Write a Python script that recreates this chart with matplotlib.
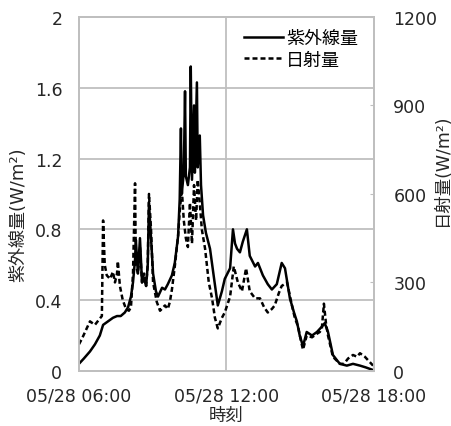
import pandas as pd
import matplotlib.pyplot as plt
import matplotlib.dates as mdates

plt.rcParams['font.family'] = ['DejaVu Sans', 'Noto Sans CJK JP']

# UV (left axis, W/m2)
uv_times = [
    '06:00', '06:12', '06:27', '06:39', '06:51', '06:59', '07:11', '07:23', '07:33', '07:42',
    '07:52', '08:00', '08:07', '08:12', '08:17', '08:19', '08:24', '08:29', '08:34', '08:39',
    '08:44', '08:48', '08:51', '08:56', '09:01', '09:08', '09:13', '09:23', '09:30', '09:37',
    '09:47', '09:54', '10:02', '10:06', '10:09', '10:11', '10:16', '10:19', '10:21', '10:26',
    '10:31', '10:33', '10:36', '10:41', '10:43', '10:48', '10:50', '10:55', '10:58', '11:03',
    '11:10', '11:20', '11:30', '11:39', '11:49', '11:56', '12:09', '12:16', '12:21', '12:26',
    '12:33', '12:40', '12:50', '12:57', '13:10', '13:17', '13:29', '13:41', '13:51', '14:03',
    '14:15', '14:23', '14:35', '14:45', '14:52', '14:59', '15:07', '15:16', '15:29', '15:41',
    '15:53', '16:00', '16:08', '16:20', '16:30', '16:37', '16:54', '17:09', '17:26', '17:40',
    '17:58',
]
uv_values = [
    0.04, 0.07, 0.11, 0.15, 0.20, 0.26, 0.28, 0.30, 0.31, 0.31,
    0.33, 0.36, 0.42, 0.50, 0.63, 0.74, 0.55, 0.75, 0.50, 0.52,
    0.48, 0.60, 0.95, 0.75, 0.55, 0.45, 0.42, 0.47, 0.46, 0.49,
    0.54, 0.61, 0.76, 0.97, 1.37, 1.00, 1.12, 1.58, 1.10, 1.05,
    1.15, 1.72, 1.08, 1.50, 1.12, 1.63, 1.15, 1.33, 1.05, 0.88,
    0.78, 0.69, 0.52, 0.37, 0.45, 0.52, 0.58, 0.80, 0.72, 0.69,
    0.67, 0.73, 0.80, 0.65, 0.59, 0.61, 0.54, 0.49, 0.46, 0.49,
    0.61, 0.58, 0.41, 0.33, 0.28, 0.20, 0.14, 0.22, 0.20, 0.22,
    0.25, 0.27, 0.22, 0.09, 0.06, 0.04, 0.03, 0.04, 0.03, 0.02,
    0.005,
]

# solar radiation (right axis, W/m2)
sol_times = [
    '06:00', '06:07', '06:15', '06:27', '06:39', '06:49', '06:56', '06:59', '07:03', '07:08',
    '07:16', '07:23', '07:28', '07:33', '07:35', '07:40', '07:47', '07:55', '08:02', '08:07',
    '08:12', '08:17', '08:19', '08:24', '08:29', '08:34', '08:39', '08:44', '08:48', '08:51',
    '08:56', '09:01', '09:10', '09:18', '09:30', '09:37', '09:42', '09:47', '09:54', '10:02',
    '10:06', '10:11', '10:16', '10:21', '10:26', '10:31', '10:36', '10:41', '10:46', '10:50',
    '10:55', '11:00', '11:08', '11:17', '11:25', '11:32', '11:39', '11:49', '11:56', '12:09',
    '12:18', '12:28', '12:38', '12:48', '12:57', '13:10', '13:22', '13:32', '13:41', '13:51',
    '13:58', '14:08', '14:15', '14:28', '14:40', '14:47', '14:55', '15:02', '15:07', '15:16',
    '15:29', '15:41', '15:48', '15:53', '15:58', '16:03', '16:08', '16:20', '16:37', '16:47',
    '16:57', '17:09', '17:19', '17:26', '17:38', '17:50', '17:58',
]
sol_values = [
    90, 108, 132, 168, 156, 174, 186, 510, 360, 324,
    312, 336, 300, 330, 372, 288, 240, 210, 204, 216,
    330, 636, 360, 330, 420, 300, 330, 288, 360, 600,
    480, 300, 234, 204, 222, 210, 234, 276, 354, 456,
    540, 618, 510, 450, 420, 570, 432, 630, 510, 648,
    570, 480, 414, 300, 246, 180, 144, 180, 198, 252,
    354, 300, 270, 348, 270, 246, 246, 216, 198, 210,
    222, 264, 288, 300, 222, 180, 150, 102, 72, 120,
    114, 126, 132, 144, 228, 162, 120, 48, 24, 24,
    42, 54, 48, 60, 48, 30, 18,
]

day = '2020-05-28 '
uv_t = pd.to_datetime([day + t for t in uv_times])
sol_t = pd.to_datetime([day + t for t in sol_times])

grid_color = '#bfbfbf'
text_color = '#262626'

fig = plt.figure(figsize=(4.51, 4.27), dpi=100)
ax = fig.add_axes([0.175, 0.129, 0.654, 0.829])
ax2 = ax.twinx()

l1, = ax.plot(uv_t, uv_values, color='black', lw=1.8, label='紫外線量')
l2, = ax2.plot(sol_t, sol_values, color='black', lw=1.8, ls=(0, (2, 1.2)),
               label='日射量')

ax.set_xlim(pd.Timestamp(day + '06:00'), pd.Timestamp(day + '18:00'))
ax.set_ylim(0, 2)
ax2.set_ylim(0, 1200)
ax.set_yticks([0, 0.4, 0.8, 1.2, 1.6, 2])
ax.set_yticklabels(['0', '0.4', '0.8', '1.2', '1.6', '2'])
ax2.set_yticks([0, 300, 600, 900, 1200])

ax.xaxis.set_major_locator(mdates.HourLocator(byhour=[6, 12, 18]))
ax.xaxis.set_major_formatter(mdates.DateFormatter('%m/%d %H:%M'))

ax.grid(True, color=grid_color, lw=1.3)
ax.set_axisbelow(True)

for a in (ax, ax2):
    for s in a.spines.values():
        s.set_color(grid_color)
        s.set_linewidth(1.3)

ax.tick_params(axis='x', length=0, labelsize=12.5, colors=text_color, pad=11)
ax.tick_params(axis='y', length=0, labelsize=12.5, colors=text_color, pad=12)
ax2.tick_params(axis='y', direction='in', length=3, color=grid_color,
                labelsize=12.5, labelcolor=text_color, pad=14)

ax.set_ylabel('紫外線量(W/m²)', fontsize=13, color=text_color)
ax.yaxis.set_label_coords(-0.176, 0.443)
ax2.set_ylabel('日射量(W/m²)', fontsize=12.5, color=text_color)
ax2.yaxis.set_label_coords(1.2, 0.571)
ax.set_xlabel('時刻', fontsize=12.5, color=text_color)
ax.xaxis.set_label_coords(0.5, -0.1)

ax2.legend(handles=[l1, l2], loc='upper right', frameon=False, fontsize=13,
           handlelength=2.2, handletextpad=0.15, labelspacing=0.2,
           borderpad=0, borderaxespad=0, bbox_to_anchor=(0.946, 0.966))

fig.savefig('out.png', dpi=100)
